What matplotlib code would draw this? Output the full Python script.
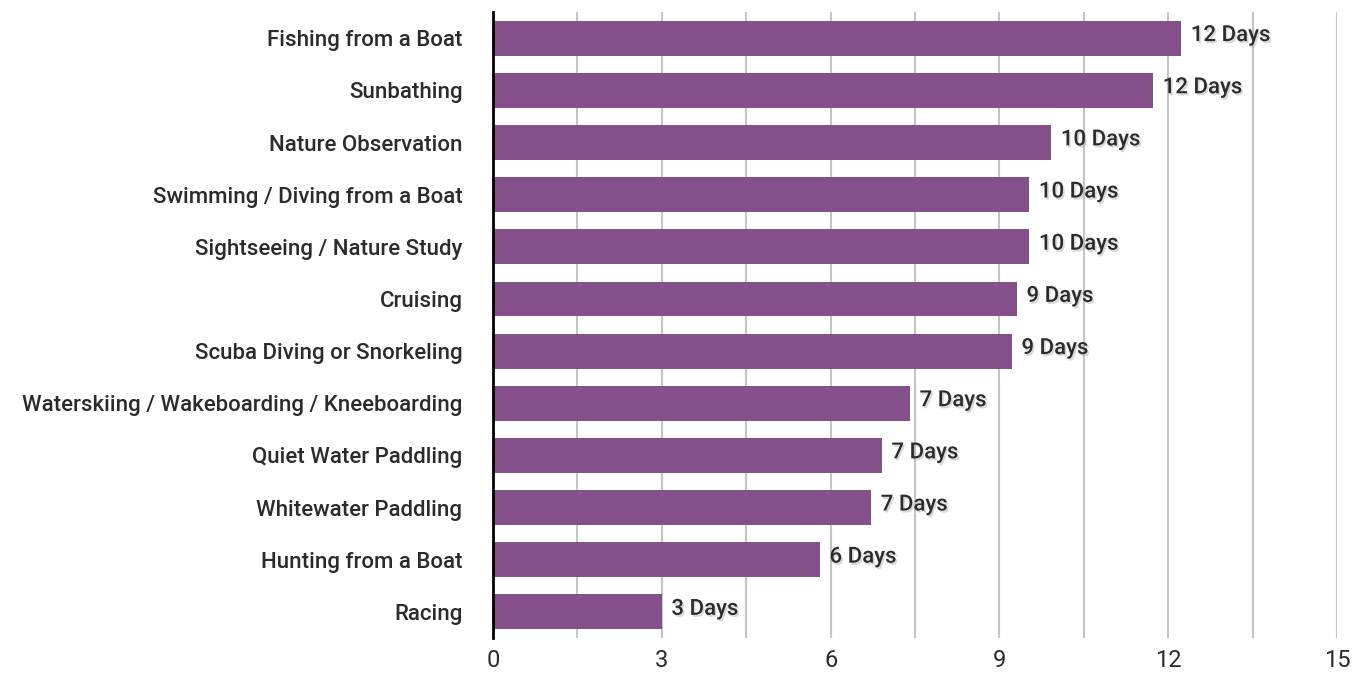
import matplotlib.pyplot as plt
import matplotlib.patheffects as pe
import numpy as np

plt.rcParams['font.family'] = ['Liberation Sans Narrow', 'Roboto', 'DejaVu Sans']

# Activities (top to bottom) and average days
activities = ['Fishing from a Boat', 'Sunbathing', 'Nature Observation',
              'Swimming / Diving from a Boat', 'Sightseeing / Nature Study',
              'Cruising', 'Scuba Diving or Snorkeling',
              'Waterskiing / Wakeboarding / Kneeboarding',
              'Quiet Water Paddling', 'Whitewater Paddling',
              'Hunting from a Boat', 'Racing']
days = [12.23, 11.73, 9.92, 9.53, 9.53, 9.31, 9.22, 7.41, 6.91, 6.72, 5.81, 3.0]
labels = ['12 Days', '12 Days', '10 Days', '10 Days', '10 Days', '9 Days',
          '9 Days', '7 Days', '7 Days', '7 Days', '6 Days', '3 Days']
xticks = [0, 3, 6, 9, 12, 15]

fig = plt.figure(figsize=(13.63, 6.73), dpi=100)
ax = fig.add_axes([0.3617, 0.052, 0.6193, 0.930])

y = np.arange(len(activities))
ax.barh(y, days, height=0.67, color='#835089', zorder=3)

# Gridlines every 1.5
for gx in np.arange(1.5, 15.01, 1.5):
    ax.axvline(gx, color='#c4c4c4', lw=1.5, zorder=1)

shadow = [pe.SimplePatchShadow(offset=(1.2, -1.5), shadow_rgbFace='#aaaaaa', alpha=0.45),
          pe.Normal()]
for yi, v, t in zip(y, days, labels):
    ax.text(v + 0.17, yi - 0.05, t, va='center', ha='left', fontsize=16,
            fontweight='medium', color='#2b2b2b', path_effects=shadow, zorder=4)

ax.set_xlim(0, 15)
ax.set_ylim(len(activities) - 0.5, -0.5)
ax.set_xticks(xticks)
ax.set_xticklabels([str(v) for v in xticks], fontsize=17, color='#2b2b2b')
ax.set_yticks(y)
ax.set_yticklabels(activities, fontsize=16, color='#2b2b2b', fontweight='medium')
ax.tick_params(axis='both', length=0)
ax.tick_params(axis='y', pad=22)
ax.tick_params(axis='x', pad=8)
for s in ['top', 'right', 'bottom']:
    ax.spines[s].set_visible(False)
ax.spines['left'].set_linewidth(2)
ax.spines['left'].set_color('black')
ax.spines['left'].set_zorder(5)

fig.savefig('out.png', dpi=100)
